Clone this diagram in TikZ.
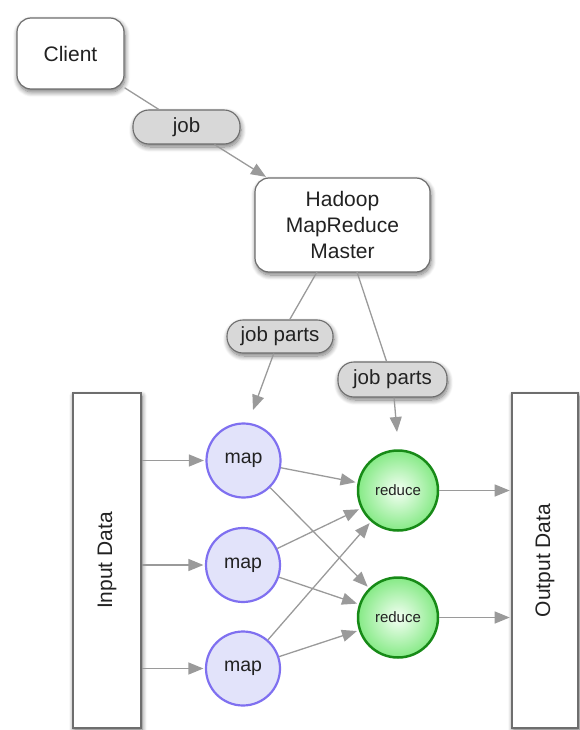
\documentclass[tikz,border=0pt]{standalone}
\usepackage{fontspec}
\setmainfont{Liberation Sans}
\usetikzlibrary{arrows.meta,shadows.blur,calc}

\definecolor{linkgray}{HTML}{9A9A9A}
\definecolor{edgegray}{HTML}{6E6E6E}
\definecolor{pillfill}{HTML}{D8D8D8}
\definecolor{mapedge}{HTML}{7F70F0}
\definecolor{mapfill}{HTML}{E2E3FA}
\definecolor{redge}{HTML}{178A17}
\definecolor{rinner}{HTML}{F4FFF4}
\definecolor{router}{HTML}{86EA86}
\definecolor{txt}{HTML}{222222}

\tikzset{
  softshadow/.style={blur shadow={shadow xshift=1pt, shadow yshift=-3pt,
      shadow blur radius=5pt, shadow blur steps=10, shadow opacity=55}},
  boxnode/.style={draw=edgegray, line width=1.2pt, fill=white, rounded corners=14pt,
      softshadow, font=\fontsize{21}{26}\selectfont, text=txt, align=center,
      inner sep=0pt},
  pill/.style={draw=edgegray, line width=1.1pt, fill=pillfill, rounded corners=16pt,
      softshadow, font=\fontsize{20.5}{24}\selectfont, text=txt, inner sep=0pt},
  databox/.style={draw=edgegray, line width=1.6pt, fill=white, softshadow,
      inner sep=0pt},
  datalabel/.style={rotate=90, font=\fontsize{21}{25}\selectfont, text=txt},
  mapnode/.style={circle, draw=mapedge, line width=2.2pt, fill=mapfill,
      minimum size=74pt, inner sep=0pt, font=\fontsize{19.5}{22}\selectfont, text=txt},
  reducenode/.style={circle, draw=redge, line width=2.5pt, inner color=rinner,
      outer color=router, minimum size=80pt, inner sep=0pt,
      font=\fontsize{15}{18}\selectfont, text=txt},
  link/.style={draw=linkgray, line width=1.3pt},
  flow/.style={link, -{Triangle[length=15pt,width=12pt]}, color=linkgray},
}

\begin{document}
\begin{tikzpicture}[x=1pt,y=-1pt]
  \useasboundingbox (0,0) rectangle (579,730);

  % client and master boxes
  \node[boxnode, minimum width=107pt, minimum height=71pt] (client) at (70.5,53.5) {Client};
  \node[boxnode, minimum width=175pt, minimum height=94pt] (master) at (342.5,225)
       {Hadoop\\MapReduce\\Master};

  % job labels sitting on the connectors
  \node[pill, minimum width=107pt, minimum height=34pt] (job) at (186.5,127) {job};
  \node[pill, minimum width=106pt, minimum height=33pt] (jp1) at (280,336.5) {job parts};
  \node[pill, minimum width=109pt, minimum height=35pt] (jp2) at (392.5,379.5) {job parts};

  % data stores
  \node[databox, minimum width=68pt, minimum height=335pt] (input) at (107,560.5) {};
  \node[datalabel] (inlabel) at (input.center) {Input Data};
  \node[databox, minimum width=66pt, minimum height=335pt] (output) at (545,560.5) {};
  \node[datalabel] (outlabel) at (output.center) {Output Data};

  % workers
  \node[mapnode] (map1) at (243.5,460.5) {map};
  \node[mapnode] (map2) at (243,565) {map};
  \node[mapnode] (map3) at (243,668.5) {map};
  \node[reducenode] (red1) at (398,490.5) {reduce};
  \node[reducenode] (red2) at (398,617.5) {reduce};

  % free ends of the job-part arrows
  \coordinate (m1) at (317,272);
  \coordinate (m2) at (357,272);
  \coordinate (t1) at (253,410);
  \coordinate (t2) at (397,432);

  % client -> master
  \draw[link] (client) -- (job);
  \draw[flow, shorten >=1pt] (job) -- (master);

  % master -> workers
  \draw[link] (m1) -- (jp1);
  \draw[flow] (jp1) -- (t1);
  \draw[link] (m2) -- (jp2);
  \draw[flow] (jp2) -- (t2);

  % input -> map
  \draw[flow, shorten >=1.5pt] (input.east |- map1) -- (map1);
  \draw[flow, shorten >=1.5pt] (input.east |- map2) -- (map2);
  \draw[flow, shorten >=1.5pt] (input.east |- map3) -- (map3);

  % map -> reduce
  \foreach \m in {map1,map2,map3}{
    \foreach \r in {red1,red2}{
      \draw[flow, shorten >=2pt] (\m) -- (\r);
    }
  }

  % reduce -> output
  \draw[flow, shorten >=1.5pt] (red1) -- (output.west |- red1);
  \draw[flow, shorten >=1.5pt] (red2) -- (output.west |- red2);
\end{tikzpicture}
\end{document}
